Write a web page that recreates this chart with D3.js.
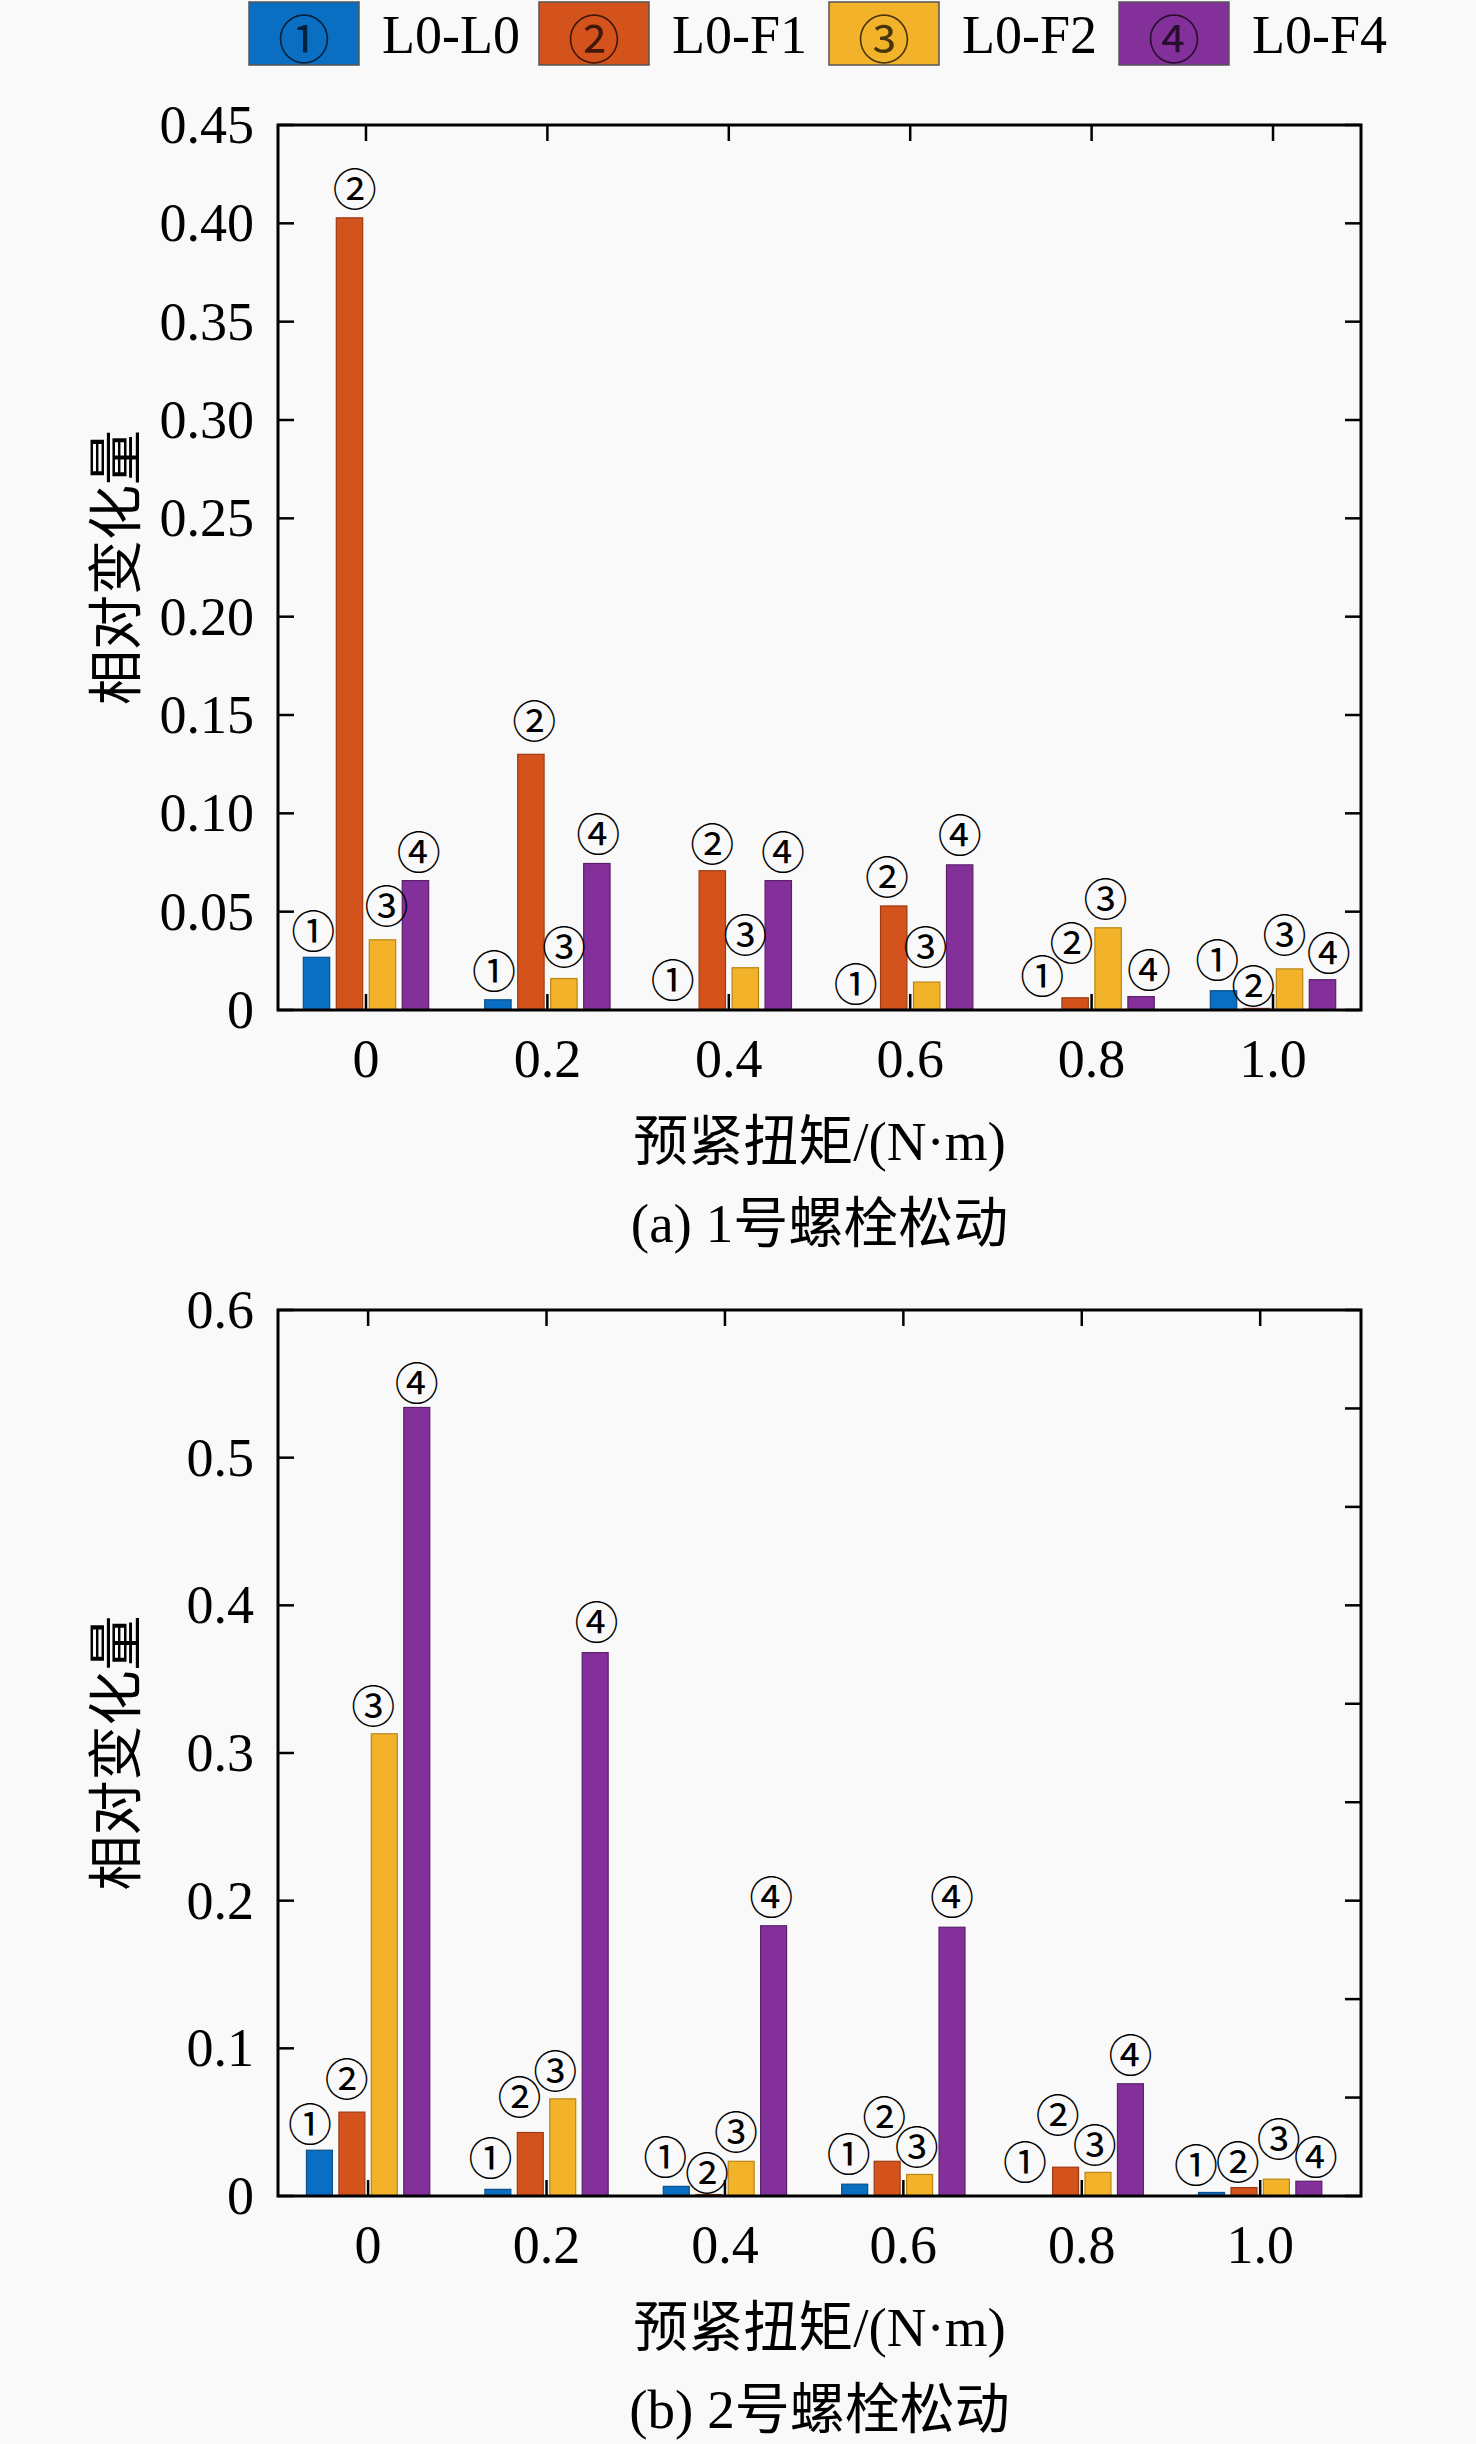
<!DOCTYPE html>
<html><head><meta charset="utf-8">
<script src="https://cdn.jsdelivr.net/npm/d3@7"></script>
<style>body{margin:0;background:#f9f9f9}svg{display:block}</style>
</head><body><svg id="c" width="1476" height="2444"></svg>
<script>
// ---------------- data ----------------
const torque = [0, 0.2, 0.4, 0.6, 0.8, 1.0];
const torqueLabels = ["0", "0.2", "0.4", "0.6", "0.8", "1.0"];
const seriesNames = ["L0-L0", "L0-F1", "L0-F2", "L0-F4"];
const markers = ["①", "②", "③", "④"];

// (a) bolt 1 loosening
const a_L0L0 = [0.0268, 0.0052, 0.0, 0.0, 0.0, 0.0098];
const a_L0F1 = [0.4028, 0.130, 0.0708, 0.0529, 0.0062, 0.0008];
const a_L0F2 = [0.0357, 0.016, 0.0215, 0.0142, 0.0418, 0.0209];
const a_L0F4 = [0.0658, 0.0745, 0.0658, 0.0738, 0.0068, 0.0154];
const a_yTicks = [0, 0.05, 0.10, 0.15, 0.20, 0.25, 0.30, 0.35, 0.40, 0.45];
const a_yTickLabels = ["0", "0.05", "0.10", "0.15", "0.20", "0.25", "0.30", "0.35", "0.40", "0.45"];
// annotation positions (data units) for the circled markers
const a_labY = [
  [0.0410, 0.0211, 0.0163, 0.0144, 0.0185, 0.0264],
  [0.4185, 0.148, 0.0855, 0.0687, 0.035, 0.0133],
  [0.0539, 0.0328, 0.0393, 0.0328, 0.0577, 0.0393],
  [0.0812, 0.0905, 0.0812, 0.0902, 0.0213, 0.0300]];
const a_labDx = [
  [-0.1, -0.12, -0.2, -0.15, 0, -0.19],
  [0.16, 0.1, 0, -0.2, -0.11, -0.1],
  [0.12, 0, 0, -0.04, -0.08, -0.15],
  [0.1, 0.04, 0.14, 0, 0.24, 0.19]];

// (b) bolt 2 loosening
const b_L0L0 = [0.031, 0.0045, 0.0065, 0.008, 0.0, 0.0024];
const b_L0F1 = [0.0568, 0.043, 0.001, 0.0235, 0.0195, 0.0057];
const b_L0F2 = [0.313, 0.0658, 0.0235, 0.0146, 0.016, 0.0114];
const b_L0F4 = [0.534, 0.368, 0.183, 0.182, 0.076, 0.010];
const b_yTicks = [0, 0.1, 0.2, 0.3, 0.4, 0.5, 0.6];
const b_yTickLabels = ["0", "0.1", "0.2", "0.3", "0.4", "0.5", "0.6"];
const b_labY = [
  [0.050, 0.0268, 0.0276, 0.0296, 0.0244, 0.0223],
  [0.0804, 0.0682, 0.0166, 0.0548, 0.056, 0.0244],
  [0.333, 0.0857, 0.045, 0.0345, 0.0357, 0.0398],
  [0.552, 0.390, 0.204, 0.204, 0.0966, 0.0276]];
const b_labDx = [
  [-0.29, -0.23, -0.34, -0.18, -0.25, -0.48],
  [-0.16, -0.33, -0.05, -0.09, -0.24, -0.19],
  [-0.34, -0.23, -0.16, -0.09, -0.1, 0.07],
  [0, 0.04, -0.07, 0, 0, 0.21]];

const xTitle = "预紧扭矩/(N·m)";
const yTitle = "相对变化量";
const captions = ["(a) 1号螺栓松动", "(b) 2号螺栓松动"];

// ---------------- style ----------------
const colors = ["#0a6fc2", "#d4521c", "#f2b32a", "#84309a"];
const edges  = ["#0b4f8a", "#9c3a14", "#b98515", "#5a206a"];
const serif = "'Liberation Serif','Times New Roman','Noto Sans CJK SC',serif";
const cjk = "'Noto Sans CJK SC','DejaVu Sans',sans-serif";

const svg = d3.select("#c");
svg.append("rect").attr("width", 1476).attr("height", 2444).attr("fill", "#f9f9f9");

// ---------------- legend ----------------
const leg = svg.append("g");
seriesNames.forEach((name, i) => {
  const x0 = 249 + i * 290;
  leg.append("rect").attr("x", x0).attr("y", 2).attr("width", 110).attr("height", 63)
    .attr("fill", colors[i]).attr("stroke", "#555").attr("stroke-width", 1.5);
  leg.append("text").attr("x", x0 + 55).attr("y", 36)
    .attr("text-anchor", "middle").attr("dominant-baseline", "central")
    .attr("font-family", cjk).attr("font-size", 52).attr("fill", "#000").attr("fill-opacity", 0.7)
    .text(markers[i]);
  leg.append("text").attr("x", x0 + 133).attr("y", 53)
    .attr("font-family", serif).attr("font-size", 54).attr("fill", "#000")
    .text(name);
});

// ---------------- chart ----------------
function drawChart(cfg) {
  const g = svg.append("g");
  const {left, right, top, bottom} = cfg;
  const x = d3.scaleLinear().domain(cfg.xDomain).range([left, right]);
  const y = d3.scaleLinear().domain([0, cfg.yTicks[cfg.yTicks.length - 1]]).range([bottom, top]);
  const nS = cfg.series.length;
  const step = 0.2 * Math.min(0.8, nS / (nS + 1.5)) / nS;   // MATLAB grouped bar spacing
  const bw = step * 0.8;

  // bars
  cfg.series.forEach((vals, s) => {
    g.selectAll(null).data(vals).enter().append("rect")
      .attr("x", (d, k) => x(torque[k] + (s - (nS - 1) / 2) * step - bw / 2))
      .attr("width", (d, k) => x(bw) - x(0))
      .attr("y", d => y(d))
      .attr("height", d => y(0) - y(d))
      .attr("fill", colors[s])
      .attr("stroke", edges[s]).attr("stroke-width", 1.2);
  });

  // ticks
  const tl = 16;
  const tk = g.append("g").attr("stroke", "#000").attr("stroke-width", 2.5);
  cfg.yTicks.forEach(v => {
    tk.append("line").attr("x1", left).attr("x2", left + tl).attr("y1", y(v)).attr("y2", y(v));
  });
  cfg.rightTicks.forEach(v => {
    tk.append("line").attr("x1", right).attr("x2", right - tl).attr("y1", y(v)).attr("y2", y(v));
  });
  torque.forEach(v => {
    tk.append("line").attr("x1", x(v)).attr("x2", x(v)).attr("y1", top).attr("y2", top + tl);
    tk.append("line").attr("x1", x(v)).attr("x2", x(v)).attr("y1", bottom).attr("y2", bottom - tl);
  });

  // frame
  g.append("rect").attr("x", left).attr("y", top).attr("width", right - left).attr("height", bottom - top)
    .attr("fill", "none").attr("stroke", "#000").attr("stroke-width", 3);

  // tick labels
  cfg.yTicks.forEach((v, k) => {
    g.append("text").attr("x", left - 24).attr("y", y(v) + 18)
      .attr("text-anchor", "end").attr("font-family", serif).attr("font-size", 54)
      .text(cfg.yTickLabels[k]);
  });
  torque.forEach((v, k) => {
    g.append("text").attr("x", x(v)).attr("y", bottom + 67)
      .attr("text-anchor", "middle").attr("font-family", serif).attr("font-size", 54)
      .text(torqueLabels[k]);
  });

  // circled markers
  cfg.labY.forEach((row, s) => {
    row.forEach((ly, k) => {
      const xc = torque[k] + (s - (nS - 1) / 2) * step + cfg.labDx[s][k] * step;
      g.append("text").attr("x", x(xc)).attr("y", y(ly))
        .attr("text-anchor", "middle").attr("dominant-baseline", "central")
        .attr("font-family", cjk).attr("font-size", 44).attr("fill", "#000")
        .text(markers[s]);
    });
  });

  // titles
  const cx = (left + right) / 2;
  g.append("text").attr("x", cx).attr("y", bottom + 150)
    .attr("text-anchor", "middle").attr("font-family", serif).attr("font-size", 55).text(xTitle);
  g.append("text").attr("x", cx).attr("y", bottom + 232)
    .attr("text-anchor", "middle").attr("font-family", serif).attr("font-size", 55).text(cfg.caption);
  g.append("text")
    .attr("transform", `translate(116,${(top + bottom) / 2}) rotate(-90)`)
    .attr("text-anchor", "middle").attr("dominant-baseline", "central")
    .attr("font-family", serif).attr("font-size", 55).text(yTitle);
}

drawChart({
  left: 278, right: 1361, top: 125, bottom: 1010,
  xDomain: [-0.097, 1.097],
  yTicks: a_yTicks, yTickLabels: a_yTickLabels, rightTicks: a_yTicks,
  series: [a_L0L0, a_L0F1, a_L0F2, a_L0F4],
  labY: a_labY, labDx: a_labDx, caption: captions[0]
});

const bMax = b_yTicks[b_yTicks.length - 1];
drawChart({
  left: 278, right: 1361, top: 1310, bottom: 2196,
  xDomain: [-0.101, 1.113],
  yTicks: b_yTicks, yTickLabels: b_yTickLabels,
  rightTicks: d3.range(0, 10).map(k => k * bMax / 9),
  series: [b_L0L0, b_L0F1, b_L0F2, b_L0F4],
  labY: b_labY, labDx: b_labDx, caption: captions[1]
});
</script></body></html>
